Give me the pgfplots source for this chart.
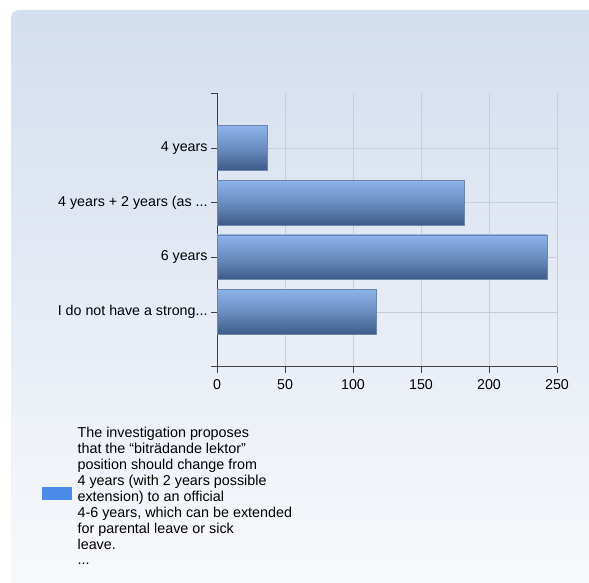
\documentclass[border=0pt]{standalone}
\usepackage{pgfplots}
\pgfplotsset{compat=1.18}
\usepackage{fontspec}
\setmainfont{Liberation Sans}
\definecolor{panelTop}{HTML}{D3DEEE}
\definecolor{panelBot}{HTML}{F8F9FC}
\definecolor{gridc}{HTML}{C8CFDA}
\definecolor{axisc}{HTML}{404040}
\definecolor{legblue}{HTML}{4A8BEA}
\definecolor{barTop}{HTML}{3D7FE4}
\definecolor{barLight}{HTML}{93BBF2}
\definecolor{barMid}{HTML}{6A8DC0}
\definecolor{barDark}{HTML}{1C355F}
\definecolor{barEdge}{HTML}{6F86A8}
\pgfdeclareverticalshading{barshade}{100bp}{color(0bp)=(barDark); color(6bp)=(barDark); color(50bp)=(barMid); color(80bp)=(barLight); color(88bp)=(barLight); color(100bp)=(barTop)}
\newcommand{\dd}{...}
\pgfplotsset{barstyle/.style={shading=barshade, draw=barEdge, line width=0.6bp, forget plot}}
\begin{document}
\begin{tikzpicture}[x=1bp,y=1bp]
\path[use as bounding box] (0,0) rectangle (589,583);
\begin{scope}
\clip (0,0) rectangle (589,583);
\shade[top color=panelTop, bottom color=panelBot, rounded corners=8bp] (11,-10) rectangle (597,573);
\end{scope}
\begin{axis}[
  at={(217bp,216.3bp)}, anchor=south west,
  scale only axis, width=340bp, height=273.4bp,
  xmin=0, xmax=250, ymin=0, ymax=5,
  xtick={0,50,100,150,200,250},
  ytick={1,2,3,4},
  yticklabels={{I do not have a strong\dd},{6 years},{4 years + 2 years (as \dd},{4 years}},
  extra y ticks={0,5}, extra y tick labels={}, extra y tick style={grid=none},
  axis x line*=bottom, axis y line*=left,
  axis line style={draw=axisc, line width=0.8bp},
  tick style={draw=axisc, line width=0.8bp},
  tick align=outside, major tick length=6bp,
  grid=major, major grid style={draw=gridc, line width=0.6bp},
  ticklabel style={font=\fontsize{14.3}{16}\selectfont, text=black},
  xticklabel style={yshift=-3bp},
  /pgf/number format/assume math mode=true,
  xbar, bar width=44.7bp, bar shift=0pt,
  legend style={at={(-0.5147,-0.21)}, anchor=north west, draw=none, fill=none, inner sep=0pt,
     cells={anchor=west}},
]
\addplot[barstyle] coordinates {(117,1)};
\addplot[barstyle] coordinates {(243,2)};
\addplot[barstyle] coordinates {(182,3)};
\addplot[barstyle] coordinates {(37,4)};
\addlegendimage{legend image code/.code={\fill[legblue] (-33bp,-67bp) rectangle (-4bp,-55bp); \path (0bp,-60bp);}}
\addlegendentry{\fontsize{14.4}{16}\selectfont\begin{tabular}[t]{@{}l@{}}The investigation proposes\\that the “biträdande lektor”\\position should change from\\4 years (with 2 years possible\\extension) to an official\\4-6 years, which can be extended\\for parental leave or sick\\leave.\\\dd\end{tabular}}
\end{axis}
\end{tikzpicture}
\end{document}
